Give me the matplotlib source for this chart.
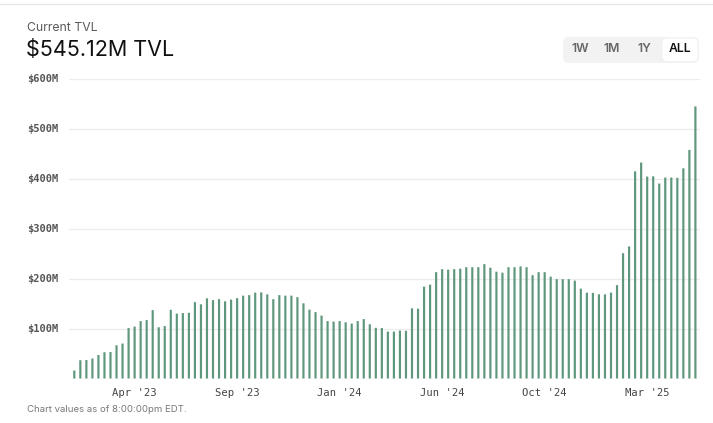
import numpy as np
import matplotlib
matplotlib.use("Agg")
import matplotlib.pyplot as plt
from matplotlib.patches import FancyBboxPatch
from matplotlib.lines import Line2D

# ---- data (TVL in $M, one bar per period) ----
tvl_musd = [16, 36.6, 37, 40, 47, 52.6, 53, 66.6, 70, 101, 104, 115, 117, 137, 102.6,
            105, 137.6, 130, 131, 131.6, 153, 148.6, 160.6, 157, 159,
            154.6, 158, 161, 166, 167, 172, 172.6, 168.6, 159, 167, 166, 166, 163, 150.6,
            138, 133, 126, 115, 114, 115, 112.6, 110, 115, 119, 108.6,
            101.5, 101, 94, 94, 96, 95.6, 140.6, 140, 184, 188, 213, 219, 218, 219, 220,
            223, 223, 223, 229, 222, 214, 212, 223, 223, 224.6, 223,
            207, 213, 213, 204, 199, 199, 199, 196, 180, 172, 171.6, 168.6, 168.6, 172,
            187, 251, 264.6, 415, 432.6, 404.6, 405, 390.6, 402.6, 402.6, 402, 421, 458, 545.12]
tick_labels = ["Apr '23", "Sep '23", "Jan '24", "Jun '24", "Oct '24", "Mar '25"]
tick_bar_index = [10, 27, 44, 61, 78, 95]
y_ticks = [100, 200, 300, 400, 500, 600]
y_tick_labels = ["$100M", "$200M", "$300M", "$400M", "$500M", "$600M"]
title_small = "Current TVL"
title_big = "$545.12M TVL"
range_buttons = ["1W", "1M", "1Y", "ALL"]
footer = "Chart values as of 8:00:00pm EDT."

W, H = 713, 423
fig = plt.figure(figsize=(W / 100, H / 100), dpi=100)
fig.patch.set_facecolor("white")

def px_rect(x0, y0, x1, y1):
    return [x0 / W, 1 - y1 / H, (x1 - x0) / W, (y1 - y0) / H]

ax = fig.add_axes(px_rect(69, 79, 700, 378.5))
x = np.arange(len(tvl_musd))
ax.bar(x, tvl_musd, width=0.36, color="#5e977b", zorder=3, linewidth=0, snap=False)
ax.set_xlim(-0.88, len(tvl_musd) - 1 + 0.76)
ax.set_ylim(0, 600)
for yv in [0] + y_ticks:
    ax.axhline(yv, color="#ececec", linewidth=1.0, zorder=1)
for s in ax.spines.values():
    s.set_visible(False)
ax.set_yticks([])
ax.set_xticks(tick_bar_index)
ax.set_xticklabels(tick_labels, fontfamily="DejaVu Sans Mono", fontsize=7.6, color="#444444")
ax.tick_params(axis="x", length=0, pad=7)
ax.patch.set_alpha(0)

# overlay in pixel coordinates
ov = fig.add_axes([0, 0, 1, 1], zorder=5)
ov.set_xlim(0, W)
ov.set_ylim(H, 0)
ov.axis("off")
ov.patch.set_alpha(0)

ov.add_line(Line2D([0, W], [4, 4], color="#e6e6e6", linewidth=1))

# y tick labels left aligned
for yv, lab in zip(y_ticks, y_tick_labels):
    ypx = 378.5 - yv * (378.5 - 79) / 600
    ov.text(27, ypx, lab, fontfamily="DejaVu Sans Mono", fontsize=7.5, color="#555555",
            ha="left", va="center", fontweight="bold")

ov.text(27, 28, title_small, fontfamily="Inter", fontsize=8.8, color="#5a5a5a",
        ha="left", va="center")
ov.text(25.5, 50, title_big, fontfamily="Inter", fontsize=15.5, color="#111111",
        ha="left", va="center")
ov.text(27, 409, footer, fontfamily="Inter", fontsize=6.9, color="#777777",
        ha="left", va="center")

# range buttons
ov.add_patch(FancyBboxPatch((563, 37), 136, 26, boxstyle="round,pad=0,rounding_size=6",
                            facecolor="#f2f2f2", edgecolor="none"))
ov.add_patch(FancyBboxPatch((662.5, 38.5), 35, 22.5, boxstyle="round,pad=0,rounding_size=5",
                            facecolor="white", edgecolor="none"))
btn_x = [580, 612, 644, 680]
for bx, lab in zip(btn_x, range_buttons):
    ov.text(bx, 49.5, lab, fontfamily="Inter", fontsize=8.8,
            color="#111111" if lab == "ALL" else "#666666",
            fontweight="semibold", ha="center", va="center")

fig.savefig("out.png", dpi=100)
